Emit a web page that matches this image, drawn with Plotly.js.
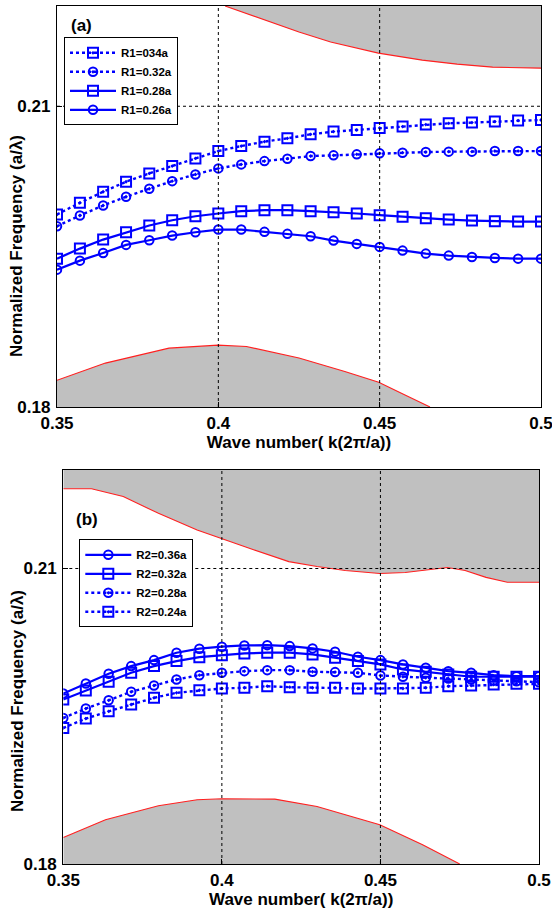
<!DOCTYPE html>
<html>
<head>
<meta charset="utf-8">
<script src="https://cdn.plot.ly/plotly-3.0.1.min.js"></script>
<style>html,body{margin:0;padding:0;background:#fff;}#chart{width:552px;height:909px;}</style>
</head>
<body>
<div id="chart"></div>
<script>
// ---- data ----
const kx = [0.35, 0.3571, 0.3643, 0.3714, 0.3786, 0.3857, 0.3929, 0.4, 0.4071, 0.4143, 0.4214,
            0.4286, 0.4357, 0.4429, 0.45, 0.4571, 0.4643, 0.4714, 0.4786, 0.4857, 0.4929, 0.5];

// panel (a)
const r1_034 = [0.1992, 0.20037, 0.20147, 0.20247, 0.2033, 0.20403, 0.2048, 0.20553, 0.20603, 0.20647, 0.2068,
                0.2072, 0.20747, 0.20763, 0.20783, 0.20797, 0.20817, 0.2083, 0.20837, 0.20847, 0.20857, 0.20863];
const r1_032 = [0.19803, 0.1991, 0.2001, 0.20097, 0.20177, 0.20253, 0.2032, 0.2038, 0.2042, 0.20453, 0.20477,
                0.20503, 0.2051, 0.2052, 0.2053, 0.20537, 0.20543, 0.20547, 0.20547, 0.20553, 0.20553, 0.20553];
const r1_028 = [0.1948, 0.1958, 0.1967, 0.19743, 0.1981, 0.19863, 0.19903, 0.1993, 0.19953, 0.19963, 0.19963,
                0.19953, 0.19943, 0.1993, 0.19913, 0.19897, 0.19883, 0.1987, 0.1986, 0.19853, 0.1985, 0.1985];
const r1_026 = [0.1937, 0.1946, 0.19537, 0.19617, 0.19663, 0.1971, 0.19743, 0.1977, 0.1977, 0.19747, 0.19727,
                0.19703, 0.1966, 0.19627, 0.19597, 0.1956, 0.1953, 0.1951, 0.19497, 0.19487, 0.1948, 0.1948];

// panel (b)
const r2_036 = [0.19731, 0.19832, 0.19931, 0.20009, 0.2007, 0.20145, 0.20186, 0.20206, 0.20219, 0.20222, 0.20212,
                0.20189, 0.20155, 0.20104, 0.2007, 0.20026, 0.19992, 0.19958, 0.19941, 0.19917, 0.19907, 0.19907];
const r2_032 = [0.1967, 0.19761, 0.1985, 0.19941, 0.20009, 0.2006, 0.201, 0.2012, 0.20138, 0.20145, 0.20145,
                0.20128, 0.20094, 0.2006, 0.20026, 0.19975, 0.19952, 0.19924, 0.19901, 0.19901, 0.19901, 0.19901];
const r2_028 = [0.19483, 0.19578, 0.19662, 0.19748, 0.19812, 0.19873, 0.19917, 0.19941, 0.19958, 0.19968, 0.19968,
                0.19952, 0.19948, 0.19941, 0.19914, 0.19901, 0.19891, 0.19883, 0.19873, 0.19863, 0.19856, 0.19846];
const r2_024 = [0.19381, 0.19476, 0.1955, 0.19619, 0.19687, 0.19738, 0.19764, 0.19782, 0.19789, 0.19805, 0.19795,
                0.19789, 0.19789, 0.19782, 0.19782, 0.19782, 0.19789, 0.19805, 0.19812, 0.19822, 0.19829, 0.19829];

// band edges (gray regions)
const bandA_up_x = [0.4021, 0.4141, 0.425, 0.4348, 0.4496, 0.4632, 0.474, 0.485, 0.5];
const bandA_up_y = [0.22, 0.2186, 0.2174, 0.2164, 0.2153, 0.2146, 0.2142, 0.2139, 0.2138];
const bandA_lo_x = [0.35, 0.365, 0.3847, 0.3999, 0.4087, 0.425, 0.4392, 0.4497, 0.4577, 0.4656];
const bandA_lo_y = [0.18266, 0.18438, 0.18587, 0.18617, 0.18604, 0.18488, 0.18355, 0.18246, 0.18123, 0.18];
const bandB_up_x = [0.35, 0.3589, 0.3689, 0.38, 0.3922, 0.3999, 0.41, 0.4211, 0.43, 0.4389, 0.4498,
                    0.4578, 0.4656, 0.4711, 0.4767, 0.4833, 0.49, 0.5];
const bandB_up_y = [0.2181, 0.2181, 0.2173, 0.2156, 0.2139, 0.2130, 0.2119, 0.2107, 0.2102, 0.2098, 0.2095,
                    0.2096, 0.2099, 0.2101, 0.2098, 0.2091, 0.2086, 0.2086];
const bandB_lo_x = [0.35, 0.3633, 0.38, 0.3922, 0.4, 0.4167, 0.43, 0.4411, 0.4498, 0.4633, 0.475];
const bandB_lo_y = [0.1827, 0.18449, 0.18591, 0.18652, 0.18662, 0.18659, 0.18584, 0.18483, 0.18399, 0.18196, 0.18];

const xRange = [0.35, 0.5];
const yRange = [0.18, 0.22];
const xTicks = [0.35, 0.4, 0.45, 0.5];
const yTicks = [0.18, 0.21];
const xGrid = [0.4, 0.45];
const yGrid = [0.21];

const namesA = ['R1=034a', 'R1=0.32a', 'R1=0.28a', 'R1=0.26a'];
const namesB = ['R2=0.36a', 'R2=0.32a', 'R2=0.28a', 'R2=0.24a'];

// ---- styling ----
const FF = 'Liberation Sans, Arial, sans-serif';
const BLUE = '#0000FF';
const GRAY = '#C0C0C0';
const RED = '#FF2020';

function bandTraces(bx, by, edgeY, xa, ya) {
  const px = bx.concat([bx[bx.length - 1], bx[0]]);
  const py = by.concat([edgeY, edgeY]);
  if (edgeY === yRange[1]) { px[px.length - 2] = xRange[1]; }
  return [
    {x: px, y: py, xaxis: xa, yaxis: ya, type: 'scatter', mode: 'lines', fill: 'toself',
     fillcolor: GRAY, line: {width: 0, color: GRAY}, showlegend: false, hoverinfo: 'skip'},
    {x: bx, y: by, xaxis: xa, yaxis: ya, type: 'scatter', mode: 'lines',
     line: {width: 1.1, color: RED}, showlegend: false, hoverinfo: 'skip'}
  ];
}

function series(y, name, dotted, sym, xa, ya, leg) {
  const isSq = sym.indexOf('square') === 0;
  return {x: kx, y: y, name: name, xaxis: xa, yaxis: ya, legend: leg, type: 'scatter', mode: 'lines+markers',
    line: {color: BLUE, width: dotted ? 2.4 : 2.2, dash: dotted ? 'dot' : 'solid'},
    marker: {symbol: sym, size: isSq ? 10 : 8.5, color: BLUE, line: {color: BLUE, width: 2}}};
}

const traces = []
  .concat(bandTraces(bandA_up_x, bandA_up_y, yRange[1], 'x', 'y'))
  .concat(bandTraces(bandA_lo_x, bandA_lo_y, yRange[0], 'x', 'y'))
  .concat(bandTraces(bandB_up_x, bandB_up_y, yRange[1], 'x2', 'y2'))
  .concat(bandTraces(bandB_lo_x, bandB_lo_y, yRange[0], 'x2', 'y2'));

traces.push(series(r1_034, namesA[0], true, 'square-open-dot', 'x', 'y', 'legend'));
traces.push(series(r1_032, namesA[1], true, 'circle-open-dot', 'x', 'y', 'legend'));
traces.push(series(r1_028, namesA[2], false, 'square-open', 'x', 'y', 'legend'));
traces.push(series(r1_026, namesA[3], false, 'circle-open', 'x', 'y', 'legend'));

traces.push(series(r2_036, namesB[0], false, 'circle-open', 'x2', 'y2', 'legend2'));
traces.push(series(r2_032, namesB[1], false, 'square-open', 'x2', 'y2', 'legend2'));
traces.push(series(r2_028, namesB[2], true, 'circle-open-dot', 'x2', 'y2', 'legend2'));
traces.push(series(r2_024, namesB[3], true, 'square-open-dot', 'x2', 'y2', 'legend2'));

const tickFont = {family: FF, size: 17, color: '#000', weight: 'bold'};
function xAxis(dom, anchor) {
  return {domain: dom, anchor: anchor, range: xRange, tickvals: xTicks, ticktext: xTicks.map(String),
    showgrid: false, zeroline: false, showline: true, mirror: true, linecolor: '#000', linewidth: 1.2,
    ticks: 'inside', ticklen: 5, tickcolor: '#000', tickfont: tickFont, ticklabelstandoff: 0,
    ticklabeloverflow: 'allow',
    title: {text: 'Wave number( k(2\u03c0/a))', font: {family: FF, size: 17, color: '#000', weight: 'bold'}, standoff: 4}};
}
function yAxis(dom, anchor) {
  return {domain: dom, anchor: anchor, range: yRange, tickvals: yTicks, ticktext: yTicks.map(String),
    showgrid: false, zeroline: false, showline: true, mirror: true, linecolor: '#000', linewidth: 1.2,
    ticks: 'inside', ticklen: 5, tickcolor: '#000', tickfont: tickFont, ticklabelstandoff: 2,
    ticklabeloverflow: 'allow'};
}

const shapes = [];
[['x', 'y'], ['x2', 'y2']].forEach(function (p) {
  xGrid.forEach(function (g) {
    shapes.push({type: 'line', xref: p[0], yref: p[1] + ' domain', x0: g, x1: g, y0: 0, y1: 1, layer: 'above',
      line: {color: '#000', width: 1, dash: '3px,3px'}});
  });
  yGrid.forEach(function (g) {
    shapes.push({type: 'line', xref: p[0] + ' domain', yref: p[1], x0: 0, x1: 1, y0: g, y1: g, layer: 'above',
      line: {color: '#000', width: 1, dash: '3px,3px'}});
  });
});

const titleFont = {family: FF, size: 17, color: '#000', weight: 'bold'};
function note(text, px, py, angle) {
  return {text: text, xref: 'paper', yref: 'paper', x: px / 552, y: 1 - py / 909, xanchor: 'center', yanchor: 'middle',
    textangle: angle || 0, showarrow: false, font: titleFont};
}

const legendFont = {family: FF, size: 11.5, color: '#000', weight: 'bold'};
const layout = {
  width: 552, height: 909,
  margin: {l: 0, r: 0, t: 0, b: 0},
  paper_bgcolor: '#fff', plot_bgcolor: '#fff',
  showlegend: true,
  xaxis: xAxis([57 / 552, 541 / 552], 'y'),
  yaxis: yAxis([1 - 407 / 909, 1 - 6 / 909], 'x'),
  xaxis2: xAxis([63.3 / 552, 539 / 552], 'y2'),
  yaxis2: yAxis([1 - 864 / 909, 1 - 470 / 909], 'x2'),
  legend: {x: 64 / 552, y: 1 - 37.3 / 909, xanchor: 'left', yanchor: 'top', bgcolor: '#fff',
    bordercolor: '#000', borderwidth: 1, font: legendFont, itemwidth: 46, tracegroupgap: 0},
  legend2: {x: 79.3 / 552, y: 1 - 539.3 / 909, xanchor: 'left', yanchor: 'top', bgcolor: '#fff',
    bordercolor: '#000', borderwidth: 1, font: legendFont, itemwidth: 46, tracegroupgap: 0},
  shapes: shapes,
  annotations: [
    note('(a)', 81, 25.5),
    note('(b)', 87, 519),
    note('Normalized Frequency (a/\u03bb)', 17, 246, -90),
    note('Normalized Frequency (a/\u03bb)', 17, 701, -90)
  ]
};

Plotly.newPlot('chart', traces, layout, {staticPlot: true, displayModeBar: false});
</script>
</body>
</html>
